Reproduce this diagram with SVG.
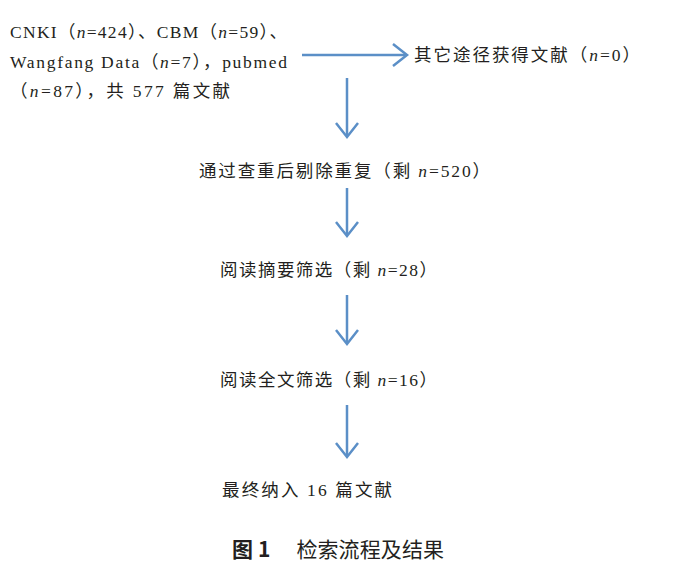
<svg xmlns="http://www.w3.org/2000/svg" width="685" height="584" viewBox="0 0 685 584">
<style>
text{font-family:"Liberation Serif","Noto Sans CJK SC",serif;font-size:17.5px;fill:#231f20}
.a{stroke:#5b8fc7;stroke-width:2.5;fill:none}
.h{stroke:#5b8fc7;stroke-width:2.5;fill:none;stroke-linejoin:miter}
</style>
<rect width="685" height="584" fill="#fff"/>
<g id="connectors">
<line class="a" x1="302" y1="55" x2="405" y2="55"/><polyline class="h" points="393,44 407,55 393,66"/>
<line class="a" x1="347" y1="78" x2="347" y2="136"/><polyline class="h" points="336,123 347,137 358,123"/>
<line class="a" x1="347" y1="188" x2="347" y2="235"/><polyline class="h" points="336,222 347,236 358,222"/>
<line class="a" x1="347" y1="295" x2="347" y2="343"/><polyline class="h" points="336,330 347,344 358,330"/>
<line class="a" x1="347" y1="405" x2="347" y2="456"/><polyline class="h" points="336,443 347,457 358,443"/>
</g>
<g id="n1">
<text x="10" y="38" textLength="277" lengthAdjust="spacing">CNKI（<tspan font-style="italic">n</tspan>=424）、CBM（<tspan font-style="italic">n</tspan>=59）、</text>
<text x="10" y="68" textLength="277" lengthAdjust="spacing">Wangfang Data（<tspan font-style="italic">n</tspan>=7），pubmed</text>
<text x="10" y="97" textLength="220" lengthAdjust="spacing">（<tspan font-style="italic">n</tspan>=87），共 577 篇文献</text>
</g>
<g id="n2"><text x="414" y="61" textLength="226" lengthAdjust="spacing">其它途径获得文献（<tspan font-style="italic">n</tspan>=0）</text></g>
<g id="n3"><text x="199" y="177" textLength="291" lengthAdjust="spacing">通过查重后剔除重复（剩 <tspan font-style="italic">n</tspan>=520）</text></g>
<g id="n4"><text x="220" y="276" textLength="217" lengthAdjust="spacing">阅读摘要筛选（剩 <tspan font-style="italic">n</tspan>=28）</text></g>
<g id="n5"><text x="220" y="386" textLength="217" lengthAdjust="spacing">阅读全文筛选（剩 <tspan font-style="italic">n</tspan>=16）</text></g>
<g id="n6"><text x="222" y="496" textLength="170" lengthAdjust="spacing">最终纳入 16 篇文献</text></g>
<g id="caption"><text x="232" y="557" textLength="212" lengthAdjust="spacing" style="font-size:21px;font-family:'Noto Sans CJK SC',sans-serif"><tspan font-weight="bold">图 1</tspan>　 检索流程及结果</text></g>
</svg>
